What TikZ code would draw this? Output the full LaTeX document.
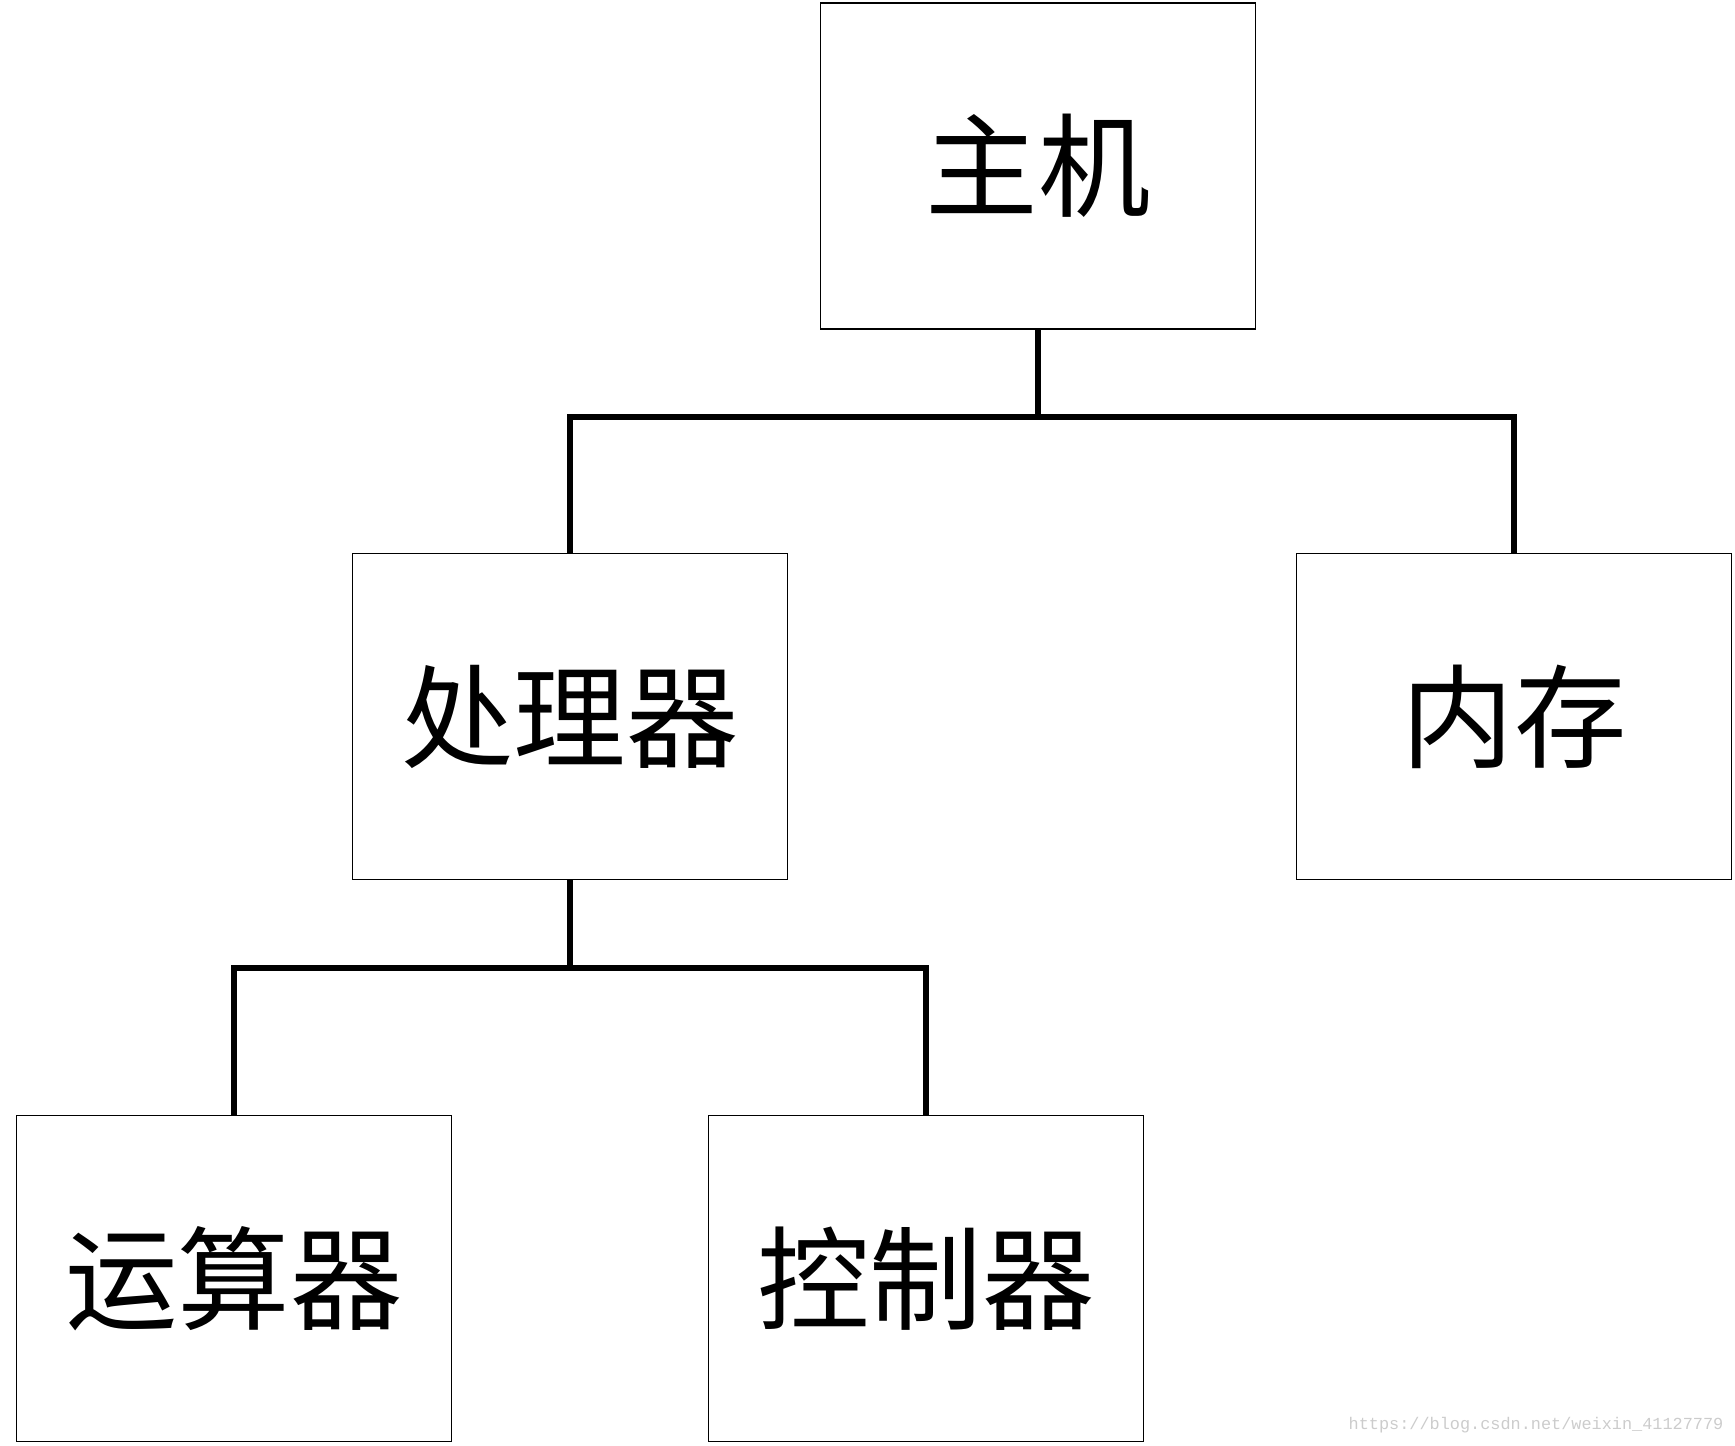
\documentclass[tikz,border=0pt]{standalone}
\usepackage{fontspec}
\usepackage{tikz}
\usetikzlibrary{positioning,calc}
\newfontfamily\cjk{Noto Sans CJK SC}
\newfontfamily\markfont{Liberation Mono}

\begin{document}
\begin{tikzpicture}
        \tikzstyle{box}=[rectangle, draw, line width=0.5pt, inner sep=0pt, minimum width=4.35cm, minimum height=3.26cm, font=\cjk\fontsize{32}{38}\selectfont]
        \tikzstyle{bus}=[line width=1.8pt]

        \useasboundingbox (0,0) rectangle (17.35,14.45);

        \node[box] (host) at (10.38,12.79) {主机};
        \node[box] (cpu) at (5.70,7.285) {处理器};
        \node[box] (mem) at (15.14,7.285) {内存};
        \node[box] (alu) at (2.34,1.665) {运算器};
        \node[box] (ctrl) at (9.26,1.665) {控制器};

        \coordinate (hostbus) at (10.38,10.28);
        \coordinate (cpubus) at (5.70,4.77);

        \draw[bus] (host.south) -- (hostbus);
        \draw[bus] (cpu.north) |- (hostbus) -| (mem.north);
        \draw[bus] (cpu.south) -- (cpubus);
        \draw[bus] (alu.north) |- (cpubus) -| (ctrl.north);

        \node[anchor=east, inner sep=0pt, text=black!20, font=\markfont\fontsize{4.8}{6}\selectfont] (mark) at (17.24,0.20) {https://blog.csdn.net/weixin\_41127779};
\end{tikzpicture}
\end{document}
